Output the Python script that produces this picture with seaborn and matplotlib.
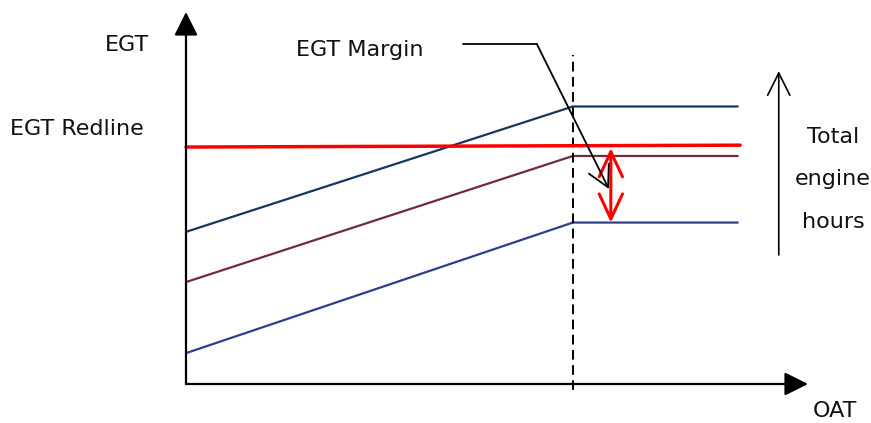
import matplotlib
matplotlib.use("Agg")
import matplotlib.pyplot as plt
import seaborn as sns
import pandas as pd

# ---- data (arbitrary schematic units: OAT 0-100, EGT 0-100) ----
oat_points = [0, 62.2, 88.7]          # start, flat-rate temperature, end
egt_high_hours = [40.9, 74.6, 74.6]
egt_mid_hours = [27.4, 61.3, 61.3]
egt_low_hours = [8.3, 43.4, 43.4]
redline_oat = [0, 89.1]
redline_egt = [63.7, 64.2]
series_names = ["High hours", "Mid hours", "Low hours"]
series_colors = ["#17375E", "#722B3D", "#2B3F8C"]

flat_rate_oat = oat_points[1]
margin_top = 63.4
margin_bottom = 43.4

sns.set_style("white")
plt.rcParams['font.family'] = ['DejaVu Sans']

W, H = 871, 423
fig = plt.figure(figsize=(W / 100, H / 100), dpi=100)
# axes origin at pixel (186, 384); x up to 808 px, y up to 12 px
ax = fig.add_axes([186 / W, (H - 384) / H, (808 - 186) / W, (384 - 12) / H])
ax.set_xlim(0, 100)
ax.set_ylim(0, 100)
ax.axis("off")

rows = []
for name, vals in zip(series_names, [egt_high_hours, egt_mid_hours, egt_low_hours]):
    for x, y in zip(oat_points, vals):
        rows.append({"OAT": x, "EGT": y, "series": name})
df = pd.DataFrame(rows)
sns.lineplot(data=df, x="OAT", y="EGT", hue="series", palette=series_colors,
             linewidth=1.6, legend=False, ax=ax, clip_on=False, sort=False)

# redline
ax.plot(redline_oat, redline_egt, color="#FF0000", linewidth=2.5, clip_on=False, zorder=3)

# dashed flat-rate line
ax.plot([flat_rate_oat, flat_rate_oat], [-1.6, 88.4], color="black", linewidth=1.4,
        linestyle=(0, (5, 2.8)), clip_on=False, zorder=2)

# axes with filled arrowheads
axis_arrow = dict(arrowstyle="-|>,head_length=0.72,head_width=0.36", color="black",
                  linewidth=1.6, mutation_scale=20, shrinkA=0, shrinkB=0)
ax.annotate("", xy=(0, 100), xytext=(0, 0), arrowprops=axis_arrow, annotation_clip=False)
ax.annotate("", xy=(100, 0), xytext=(0, 0), arrowprops=axis_arrow, annotation_clip=False)

# EGT margin double arrow
ax.annotate("", xy=(68.3, margin_bottom), xytext=(68.3, margin_top),
            arrowprops=dict(arrowstyle="<->,head_length=0.9,head_width=0.42", color="#FF0000",
                            linewidth=2.2, mutation_scale=20, shrinkA=0, shrinkB=0),
            annotation_clip=False, zorder=4)

# EGT Margin leader
ax.plot([44.5, 56.4], [91.4, 91.4], color="black", linewidth=1.3, clip_on=False)
ax.annotate("", xy=(68.0, 52.4), xytext=(56.4, 91.4),
            arrowprops=dict(arrowstyle="->,head_length=0.75,head_width=0.4", color="black",
                            linewidth=1.3, mutation_scale=20, shrinkA=0, shrinkB=0),
            annotation_clip=False, zorder=5)

# Total engine hours arrow
ax.annotate("", xy=(95.3, 84.1), xytext=(95.3, 34.7),
            arrowprops=dict(arrowstyle="->,head_length=0.8,head_width=0.4", color="black",
                            linewidth=1.2, mutation_scale=20, shrinkA=0, shrinkB=0),
            annotation_clip=False)

fs = 16
ax.text(-9.5, 89.5, "EGT", fontsize=fs, ha="center", va="baseline", color="#111111")
ax.text(-28.3, 66.9, "EGT Redline", fontsize=fs, ha="left", va="baseline", color="#111111")
ax.text(28.0, 88.3, "EGT Margin", fontsize=fs, ha="center", va="baseline", color="#111111")
ax.text(104.3, -8.8, "OAT", fontsize=fs, ha="center", va="baseline", color="#111111")
ax.text(104.0, 64.8, "Total", fontsize=fs, ha="center", va="baseline", color="#111111")
ax.text(104.0, 53.4, "engine", fontsize=fs, ha="center", va="baseline", color="#111111")
ax.text(104.0, 42.0, "hours", fontsize=fs, ha="center", va="baseline", color="#111111")

fig.savefig("out.png", dpi=100, facecolor="white")
